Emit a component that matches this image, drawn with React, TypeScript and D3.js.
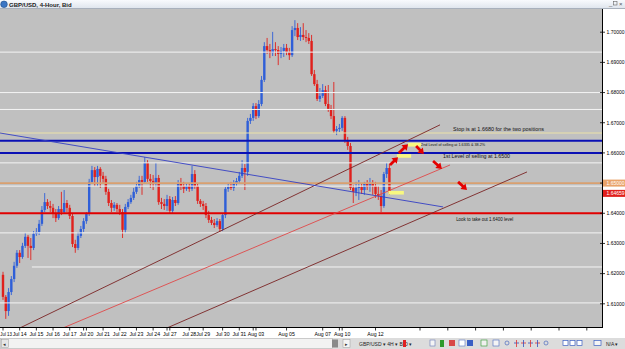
import React from "react";
import * as d3 from "d3";

// ---- candle data (GBP/USD, 4-Hour, Bid) ----
const opens = [
  1.6196, 1.6123, 1.6076, 1.6139, 1.6182, 1.6226, 1.6269, 1.6255, 1.6292, 1.6322,
  1.6292, 1.6285, 1.6332, 1.6338, 1.6365, 1.6411, 1.6437, 1.6424, 1.6418, 1.6398,
  1.6384, 1.6414, 1.6404, 1.6434, 1.6418, 1.6391, 1.6298, 1.6285, 1.6325, 1.6348,
  1.6374, 1.6398, 1.6504, 1.6543, 1.6520, 1.6547, 1.6524, 1.6514, 1.6471, 1.6434,
  1.6418, 1.6428, 1.6414, 1.6404, 1.6345, 1.6421, 1.6437, 1.6451, 1.6471, 1.6490,
  1.6510, 1.6504, 1.6567, 1.6514, 1.6507, 1.6497, 1.6517, 1.6437, 1.6431, 1.6424,
  1.6447, 1.6408, 1.6444, 1.6434, 1.6500, 1.6490, 1.6481, 1.6490, 1.6481, 1.6530,
  1.6490, 1.6441, 1.6431, 1.6424, 1.6394, 1.6378, 1.6368, 1.6361, 1.6374, 1.6348,
  1.6394, 1.6481, 1.6487, 1.6484, 1.6497, 1.6507, 1.6524, 1.6550, 1.6537, 1.6706,
  1.6716, 1.6755, 1.6722, 1.6762, 1.6842, 1.6954, 1.6941, 1.6931, 1.6944, 1.6941,
  1.6928, 1.6938, 1.6948, 1.6934, 1.6924, 1.7007, 1.7014, 1.6984, 1.6991, 1.6984,
  1.6981, 1.6971, 1.6861, 1.6828, 1.6779, 1.6789, 1.6808, 1.6762, 1.6746, 1.6722,
  1.6673, 1.6679, 1.6683, 1.6716, 1.6643, 1.6623, 1.6484, 1.6471, 1.6484, 1.6487,
  1.6477, 1.6497, 1.6487, 1.6500, 1.6490, 1.6464, 1.6457, 1.6424, 1.6530, 1.6550,
];
const highs = [
  1.6206, 1.6129, 1.6152, 1.6192, 1.6239, 1.6278, 1.6278, 1.6302, 1.6335, 1.6328,
  1.6318, 1.6341, 1.6351, 1.6378, 1.6424, 1.6467, 1.6447, 1.6441, 1.6431, 1.6414,
  1.6424, 1.6471, 1.6477, 1.6444, 1.6428, 1.6398, 1.6312, 1.6338, 1.6358, 1.6384,
  1.6404, 1.6514, 1.6557, 1.6553, 1.6557, 1.6553, 1.6537, 1.6524, 1.6481, 1.6444,
  1.6437, 1.6434, 1.6428, 1.6414, 1.6431, 1.6447, 1.6461, 1.6484, 1.6504, 1.6524,
  1.6524, 1.6586, 1.6576, 1.6530, 1.6527, 1.6567, 1.6527, 1.6451, 1.6447, 1.6461,
  1.6457, 1.6454, 1.6457, 1.6510, 1.6517, 1.6504, 1.6500, 1.6497, 1.6557, 1.6543,
  1.6500, 1.6447, 1.6441, 1.6434, 1.6408, 1.6388, 1.6381, 1.6384, 1.6381, 1.6401,
  1.6487, 1.6497, 1.6504, 1.6510, 1.6517, 1.6537, 1.6576, 1.6563, 1.6716, 1.6729,
  1.6765, 1.6765, 1.6775, 1.6855, 1.6967, 1.6981, 1.6961, 1.7001, 1.6967, 1.6954,
  1.6951, 1.6961, 1.6961, 1.6948, 1.7020, 1.7040, 1.7030, 1.7017, 1.7030, 1.7007,
  1.6997, 1.6991, 1.6875, 1.6842, 1.6815, 1.6828, 1.6822, 1.6825, 1.6759, 1.6835,
  1.6689, 1.6696, 1.6722, 1.6722, 1.6653, 1.6633, 1.6494, 1.6504, 1.6510, 1.6500,
  1.6504, 1.6510, 1.6517, 1.6510, 1.6504, 1.6490, 1.6477, 1.6537, 1.6567, 1.6563,
];
const lows = [
  1.6113, 1.6050, 1.6060, 1.6129, 1.6172, 1.6219, 1.6235, 1.6249, 1.6285, 1.6252,
  1.6245, 1.6278, 1.6325, 1.6328, 1.6358, 1.6404, 1.6414, 1.6404, 1.6384, 1.6371,
  1.6378, 1.6394, 1.6398, 1.6404, 1.6381, 1.6288, 1.6269, 1.6278, 1.6318, 1.6338,
  1.6365, 1.6391, 1.6497, 1.6490, 1.6490, 1.6484, 1.6500, 1.6461, 1.6424, 1.6404,
  1.6408, 1.6404, 1.6394, 1.6318, 1.6335, 1.6414, 1.6431, 1.6444, 1.6464, 1.6484,
  1.6461, 1.6497, 1.6504, 1.6484, 1.6477, 1.6487, 1.6428, 1.6414, 1.6411, 1.6408,
  1.6398, 1.6401, 1.6424, 1.6428, 1.6477, 1.6467, 1.6474, 1.6471, 1.6474, 1.6481,
  1.6431, 1.6421, 1.6411, 1.6384, 1.6368, 1.6361, 1.6351, 1.6355, 1.6338, 1.6341,
  1.6384, 1.6471, 1.6477, 1.6474, 1.6490, 1.6500, 1.6517, 1.6477, 1.6524, 1.6696,
  1.6706, 1.6712, 1.6716, 1.6755, 1.6835, 1.6928, 1.6914, 1.6921, 1.6921, 1.6891,
  1.6914, 1.6918, 1.6924, 1.6908, 1.6918, 1.6987, 1.6974, 1.6971, 1.6974, 1.6967,
  1.6961, 1.6855, 1.6822, 1.6772, 1.6769, 1.6782, 1.6755, 1.6736, 1.6712, 1.6666,
  1.6659, 1.6669, 1.6673, 1.6633, 1.6610, 1.6477, 1.6434, 1.6457, 1.6444, 1.6464,
  1.6461, 1.6477, 1.6471, 1.6461, 1.6451, 1.6444, 1.6404, 1.6418, 1.6517, 1.6461,
];
const closes = [
  1.6123, 1.6076, 1.6139, 1.6182, 1.6226, 1.6269, 1.6255, 1.6292, 1.6322, 1.6292,
  1.6285, 1.6332, 1.6338, 1.6365, 1.6411, 1.6437, 1.6424, 1.6418, 1.6398, 1.6384,
  1.6414, 1.6404, 1.6434, 1.6418, 1.6391, 1.6298, 1.6285, 1.6325, 1.6348, 1.6374,
  1.6398, 1.6504, 1.6543, 1.6520, 1.6547, 1.6524, 1.6514, 1.6471, 1.6434, 1.6418,
  1.6428, 1.6414, 1.6404, 1.6345, 1.6421, 1.6437, 1.6451, 1.6471, 1.6490, 1.6510,
  1.6504, 1.6567, 1.6514, 1.6507, 1.6497, 1.6517, 1.6437, 1.6431, 1.6424, 1.6447,
  1.6408, 1.6444, 1.6434, 1.6500, 1.6490, 1.6481, 1.6490, 1.6481, 1.6530, 1.6490,
  1.6441, 1.6431, 1.6424, 1.6394, 1.6378, 1.6368, 1.6361, 1.6374, 1.6348, 1.6394,
  1.6481, 1.6487, 1.6484, 1.6497, 1.6507, 1.6524, 1.6550, 1.6537, 1.6706, 1.6716,
  1.6755, 1.6722, 1.6762, 1.6842, 1.6954, 1.6941, 1.6931, 1.6944, 1.6941, 1.6928,
  1.6938, 1.6948, 1.6934, 1.6924, 1.7007, 1.7014, 1.6984, 1.6991, 1.6984, 1.6981,
  1.6971, 1.6861, 1.6828, 1.6779, 1.6789, 1.6808, 1.6762, 1.6746, 1.6722, 1.6673,
  1.6679, 1.6683, 1.6716, 1.6643, 1.6623, 1.6484, 1.6471, 1.6484, 1.6487, 1.6477,
  1.6497, 1.6487, 1.6500, 1.6490, 1.6464, 1.6457, 1.6424, 1.6530, 1.6550, 1.6466,
];

// ---- axes ----
const dayLabels = ["Jul 13", "Jul 14", "Jul 15", "Jul 16", "Jul 17", "Jul 20", "Jul 21", "Jul 22", "Jul 23", "Jul 24",
  "Jul 27", "Jul 28", "Jul 29", "Jul 30", "Jul 31", "Aug 03", "Aug 05", "Aug 07", "Aug 10", "Aug 12"];
const dayBars = [0, 6, 12, 18, 24, 30, 36, 42, 48, 54, 60, 67, 72, 79, 85, 91, 102, 115, 122, 134];
const sundayBars = [29, 59, 90, 121];
const futureBars = [150, 160, 170, 180, 190, 200, 210];
const priceTicks = [1.61, 1.62, 1.63, 1.64, 1.65, 1.66, 1.67, 1.68, 1.69, 1.70];

// ---- drawn objects ----
const whiteLevels = [1.6934, 1.6800, 1.6744, 1.6567, 1.6490, 1.6335, 1.6222, 1.6103];
const whiteLevelStart = [-2, -2, -2, -2, -2, -2, 10.4, -2];
const stopLevel = 1.6666;
const blueLevels = [1.6640, 1.6600];
const orangeLevel = 1.65;
const redLevel = 1.64;
const bidPrice = 1.64659;

const trendBar1 = [6.1, 21.6, 59.0, -1.1];
const trendPrice1 = [1.6020, 1.6020, 1.6020, 1.6666];
const trendBar2 = [157.2, 160.8, 188.5, 158.3];
const trendPrice2 = [1.6693, 1.6560, 1.6537, 1.6421];

const boxBar1 = [138.6, 141.7, 145.7];
const boxBar2 = [144.2, 146.8, 150.4];
const boxPrice1 = [1.6474, 1.6596, 1.6633];
const boxPrice2 = [1.6462, 1.6584, 1.6621];

const arrowTailBar = [139.2, 142.4, 148.6, 154.7, 163.7];
const arrowTailPrice = [1.6560, 1.6600, 1.6623, 1.6573, 1.6504];
const arrowHeadBar = [142.1, 145.7, 151.4, 157.9, 166.9];
const arrowHeadPrice = [1.6586, 1.6629, 1.6596, 1.6547, 1.6477];

const noteTexts = [
  "Stop is at 1.6680 for the two positions",
  "2nd Level of selling at 1.6335 & 38.2%",
  "1st Level of selling at 1.6500",
  "Look to take out 1.6400 level",
];
const noteBar = [161.9, 150.4, 158.3, 163.0];
const notePrice = [1.6672, 1.6623, 1.6584, 1.6375];
const noteWidth = [91, 64, 67, 57];

const FONT = "'Liberation Sans', Arial, sans-serif";

function arrowPoints(x1: number, y1: number, x2: number, y2: number) {
  const dx = x2 - x1, dy = y2 - y1;
  const len = Math.hypot(dx, dy);
  const ux = dx / len, uy = dy / len;
  const nx = -uy, ny = ux;
  const hl = 5.5, hw = 3.8, sw = 1.4;
  const bx = x2 - ux * hl, by = y2 - uy * hl;
  const pts = [
    [x1 + nx * sw, y1 + ny * sw],
    [bx + nx * sw, by + ny * sw],
    [bx + nx * hw, by + ny * hw],
    [x2, y2],
    [bx - nx * hw, by - ny * hw],
    [bx - nx * sw, by - ny * sw],
    [x1 - nx * sw, y1 - ny * sw],
  ];
  return pts.map((p) => p[0].toFixed(2) + "," + p[1].toFixed(2)).join(" ");
}

export default function App() {
  const plotRight = 603;
  const plotTop = 9;
  const plotBottom = 327;
  const x = d3.scaleLinear().domain([0, 216]).range([3, 603.48]);
  const y = d3.scaleLinear().domain([1.61, 1.70]).range([303.8, 32.2]);
  const fmt = d3.format(".5f");
  const bull = "#2f5fd8";
  const bear = "#e0201c";
  const xEnd = x(220);
  const xStart = x(-3);

  const yOrange = y(orangeLevel);
  const yBid = Math.max(y(bidPrice), yOrange + 7);

  return (
    <svg width={625} height={349} style={{ position: "absolute", left: 0, top: 0 }} fontFamily={FONT}>
      <defs>
        <clipPath id="plot">
          <rect x={0} y={plotTop} width={plotRight} height={plotBottom - plotTop} />
        </clipPath>
        <linearGradient id="title" x1="0" y1="0" x2="0" y2="1">
          <stop offset="0" stopColor="#f8fafd" />
          <stop offset="1" stopColor="#dde3ec" />
        </linearGradient>
      </defs>
      {/* window background */}
      <rect x={0} y={0} width={625} height={349} fill="#ffffff" />
      <rect x={0} y={0} width={625} height={plotTop} fill="url(#title)" />
      <line x1={0} x2={625} y1={plotTop - 0.5} y2={plotTop - 0.5} stroke="#a8b0bc" />
      <circle cx={4} cy={4.3} r={3.3} fill="#3b76c4" stroke="#1d4d8a" strokeWidth={0.6} />
      <text x={9} y={6.8} fontSize={6} fontWeight="bold" fill="#1a1a1a">GBP/USD, 4-Hour, Bid</text>
      <text x={609} y={5.5} fontSize={6} fill="#555">_</text>
      <rect x={613.5} y={1.5} width={3.5} height={3.5} fill="none" stroke="#666" strokeWidth={0.6} />
      <text x={619} y={6} fontSize={6} fill="#555">×</text>

      {/* chart area */}
      <rect x={0} y={plotTop} width={plotRight} height={plotBottom - plotTop} fill="#c0c0c0" />
      <g clipPath="url(#plot)">
        {/* candles */}
        {closes.map((c, i) => {
          const o = opens[i];
          const up = c >= o;
          const col = up ? bull : bear;
          const cx = x(i);
          const top = y(Math.max(o, c));
          const bot = y(Math.min(o, c));
          return (
            <g key={i}>
              <line x1={cx} x2={cx} y1={y(highs[i])} y2={y(lows[i])} stroke={col} strokeWidth={0.9} />
              <rect x={cx - 1.2} y={top} width={2.4} height={Math.max(1, bot - top)} fill={col} />
            </g>
          );
        })}
        {/* white horizontal lines */}
        {whiteLevels.map((p, i) => (
          <line key={"w" + i} x1={x(whiteLevelStart[i])} x2={xEnd} y1={y(p)} y2={y(p)} stroke="#f4f4f4" strokeWidth={1} />
        ))}
        <line x1={xStart} x2={xEnd} y1={y(stopLevel)} y2={y(stopLevel)} stroke="#ece2a8" strokeWidth={1} />
        {blueLevels.map((p, i) => (
          <line key={"b" + i} x1={xStart} x2={xEnd} y1={y(p)} y2={y(p)} stroke="#0a10b4" strokeWidth={2} />
        ))}
        <line x1={xStart} x2={xEnd} y1={yOrange} y2={yOrange} stroke="#d9a070" strokeWidth={1.6} />
        <line x1={xStart} x2={xEnd} y1={y(redLevel)} y2={y(redLevel)} stroke="#e00000" strokeWidth={2} />
        {/* trend lines */}
        {trendBar1.map((b, i) => {
          const col = i === 3 ? "#3440c4" : i === 1 ? "#e04848" : "#7a2424";
          return (
            <line key={"t" + i} x1={x(b)} y1={y(trendPrice1[i])} x2={x(trendBar2[i])} y2={y(trendPrice2[i])}
              stroke={col} strokeWidth={0.9} />
          );
        })}
        {/* yellow boxes */}
        {boxBar1.map((b, i) => (
          <rect key={"yb" + i} x={x(b)} y={y(boxPrice1[i])} width={x(boxBar2[i]) - x(b)}
            height={y(boxPrice2[i]) - y(boxPrice1[i])} fill="#f8f880" />
        ))}
        {/* arrows */}
        {arrowTailBar.map((b, i) => (
          <polygon key={"a" + i}
            points={arrowPoints(x(b), y(arrowTailPrice[i]), x(arrowHeadBar[i]), y(arrowHeadPrice[i]))}
            fill="#e40000" />
        ))}
        {/* notes */}
        {noteTexts.map((t, i) => (
          <text key={"n" + i} x={x(noteBar[i])} y={y(notePrice[i])} fontSize={i === 1 ? 4.3 : 5.2} fill="#101010"
            textLength={noteWidth[i]} lengthAdjust="spacingAndGlyphs">{t}</text>
        ))}
      </g>

      {/* right price axis */}
      <rect x={plotRight} y={plotTop} width={625 - plotRight} height={plotBottom - plotTop} fill="#ffffff" />
      <line x1={plotRight - 0.5} x2={plotRight - 0.5} y1={plotTop} y2={plotBottom + 11} stroke="#000" strokeWidth={1} />
      {priceTicks.map((p) => (
        <g key={"p" + p}>
          <line x1={plotRight - 3} x2={plotRight + 2} y1={y(p)} y2={y(p)} stroke="#000" strokeWidth={0.8} />
          <text x={plotRight + 3.5} y={y(p) + 1.8} fontSize={5} fill="#000">{fmt(p)}</text>
        </g>
      ))}
      <rect x={plotRight} y={yOrange - 3.5} width={22} height={7} fill="#e9a36a" />
      <text x={plotRight + 3.5} y={yOrange + 1.8} fontSize={5} fill="#ffffff">{fmt(orangeLevel)}</text>
      <rect x={plotRight} y={yBid - 3.5} width={22} height={7} fill="#e0201c" />
      <text x={plotRight + 3.5} y={yBid + 1.8} fontSize={5} fill="#ffffff">{fmt(bidPrice)}</text>

      {/* bottom time axis */}
      <rect x={0} y={plotBottom} width={plotRight} height={11} fill="#ffffff" />
      <line x1={0} x2={plotRight} y1={plotBottom + 0.5} y2={plotBottom + 0.5} stroke="#000" strokeWidth={1} />
      {dayBars.map((b, i) => (
        <g key={"d" + i}>
          <line x1={x(b)} x2={x(b)} y1={plotBottom} y2={plotBottom + 3.5} stroke="#000" strokeWidth={0.8} />
          {i === 0 ? (
            <text x={0.3} y={plotBottom + 9} fontSize={4.6} textAnchor="start" fill="#000"
              textLength={11.6} lengthAdjust="spacingAndGlyphs">{dayLabels[i]}</text>
          ) : (
            <text x={x(b)} y={plotBottom + 9} fontSize={5.2} textAnchor="middle" fill="#000">{dayLabels[i]}</text>
          )}
        </g>
      ))}
      {sundayBars.concat(futureBars).map((b) => (
        <line key={"s" + b} x1={x(b)} x2={x(b)} y1={plotBottom} y2={plotBottom + 3.5} stroke="#000" strokeWidth={0.8} />
      ))}

      {/* bottom toolbar */}
      <rect x={0} y={338} width={625} height={11} fill="#dcdcdc" />
      <rect x={0.5} y={338.5} width={332} height={10} fill="#f2f2f2" stroke="#b8b8b8" strokeWidth={0.6} />
      <rect x={1.5} y={339.5} width={7} height={8} fill="#e6e6e6" stroke="#999" strokeWidth={0.5} />
      <text x={3} y={346} fontSize={5} fill="#333">◂</text>
      <rect x={332} y={339.5} width={6} height={8} fill="#8a8a8a" />
      <rect x={343} y={339.5} width={7} height={8} fill="#f4f4f4" stroke="#999" strokeWidth={0.5} />
      <text x={345} y={346} fontSize={5} fill="#333">▸</text>
      <text x={359} y={346} fontSize={5} fill="#222">GBP/USD ▾  4H ▾  BID ▾</text>
      <rect x={403} y={340} width={3} height={7} fill="#e02020" />
      <rect x={430} y={340} width={5} height={6} fill="#f4f4f4" stroke="#6a7ab8" strokeWidth={0.6} />
      <rect x={440} y={340} width={4} height={7} fill="#2c9a2c" />
      <rect x={449} y={340} width={6} height={6} fill="#d84848" />
      <rect x={459} y={340} width={6} height={6} fill="#ffffff" stroke="#5a78c8" strokeWidth={0.6} />
      <rect x={467} y={340} width={6} height={6} fill="#3a5fc4" />
      <rect x={481} y={340} width={6} height={6} fill="#f0f0f0" stroke="#2c9a2c" strokeWidth={0.6} />
      <rect x={493} y={340} width={6} height={6} fill="#f4f4f4" stroke="#4a6ac0" strokeWidth={0.6} />
      <circle cx={507} cy={343} r={2} fill="none" stroke="#4a6ac0" strokeWidth={0.7} />
      {[514, 521, 528, 535].map((px, k) => (
        <g key={"ic" + k}>
          <line x1={px} x2={px + 5} y1={343} y2={343} stroke={k % 2 ? "#e03030" : "#3050c0"} strokeWidth={0.8} />
          <line x1={px + 2.5} x2={px + 2.5} y1={340} y2={347} stroke={k % 2 ? "#3050c0" : "#e03030"} strokeWidth={0.8} />
        </g>
      ))}
      <circle cx={546} cy={343} r={2} fill="none" stroke="#4a6ac0" strokeWidth={0.7} />
      {[563, 570, 577].map((px, k) => (
        <rect key={"bl" + k} x={px} y={340.5} width={5} height={5} fill="#ffffff" stroke="#3a5fc4" strokeWidth={0.7} />
      ))}
      <rect x={594} y={340.5} width={7} height={5} fill="#f4f4f4" stroke="#3a5fc4" strokeWidth={0.7} />
      <text x={606} y={346} fontSize={5} fill="#222">N/A ▾</text>
    </svg>
  );
}
